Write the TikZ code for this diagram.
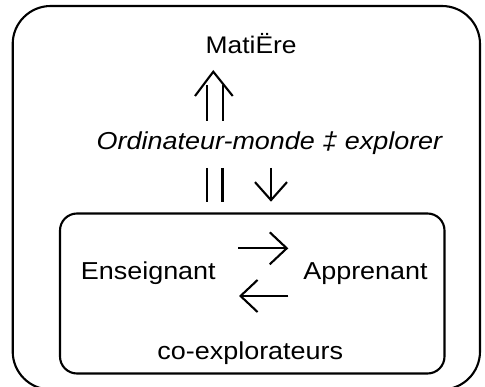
\documentclass[tikz,border=0pt]{standalone}
\usepackage{fontspec}
\setmainfont[FakeStretch=1.1]{Liberation Sans}
\usetikzlibrary{arrows.meta}
\begin{document}
\begin{tikzpicture}[x=1pt,y=-1pt,
  ln/.style={line width=2.1pt},
  boxstyle/.style={draw, line width=2.1pt, inner sep=0pt},
  lbl/.style={anchor=base, inner sep=0pt, font=\fontsize{24.5}{28}\selectfont},
  barb/.style={ln, -{Straight Barb[length=#1, width=32pt, line width=2.1pt]}}]
\useasboundingbox (0,0) rectangle (485,387);
% boxes
\node[boxstyle, rounded corners=38pt, minimum width=467.3pt, minimum height=383.5pt] (outer) at (246.35,197.75) {};
\node[boxstyle, rounded corners=17pt, minimum width=384.5pt, minimum height=160pt] (inner) at (252.25,293.5) {};
% texts
\node[lbl, font=\fontsize{24}{28}\selectfont] (mat) at (251.2,53.3) {MatiËre};
\node[lbl, font=\fontsize{24.5}{28}\selectfont\itshape] (ord) at (269.5,150) {Ordinateur-monde ‡ explorer};
\node[lbl] (ens) at (148.3,280) {Enseignant};
\node[lbl] (app) at (365.5,280) {Apprenant};
\node[lbl] (coex) at (250.3,359.3) {co-explorateurs};
% coordinates for connectors
\coordinate (uaL0) at (207.3,121); \coordinate (uaL1) at (207.3,85);
\coordinate (uaR0) at (222.7,121); \coordinate (uaR1) at (222.7,85);
\coordinate (uaA) at (195,96); \coordinate (uaTip) at (213.3,71.7); \coordinate (uaB) at (232.7,96);
\coordinate (dlL0) at (207.3,168); \coordinate (dlL1) at (207.3,201.7);
\coordinate (dlR0) at (222.5,168); \coordinate (dlR1) at (222.5,201.7);
\coordinate (da0) at (271,168); \coordinate (da1) at (271,201.7);
\coordinate (ra0) at (238.3,248.3); \coordinate (ra1) at (288.3,248.3);
\coordinate (la0) at (288.3,296); \coordinate (la1) at (239,296);
% double up arrow
\draw[ln] (uaL0) -- (uaL1);
\draw[ln] (uaR0) -- (uaR1);
\draw[ln] (uaA) -- (uaTip) -- (uaB);
% double line and down arrow
\draw[ln] (dlL0) -- (dlL1);
\draw[ln] (dlR0) -- (dlR1);
\draw[barb=18pt] (da0) -- (da1);
% exchange arrows
\draw[barb=17pt] (ra0) -- (ra1);
\draw[barb=17pt] (la0) -- (la1);
\end{tikzpicture}
\end{document}
